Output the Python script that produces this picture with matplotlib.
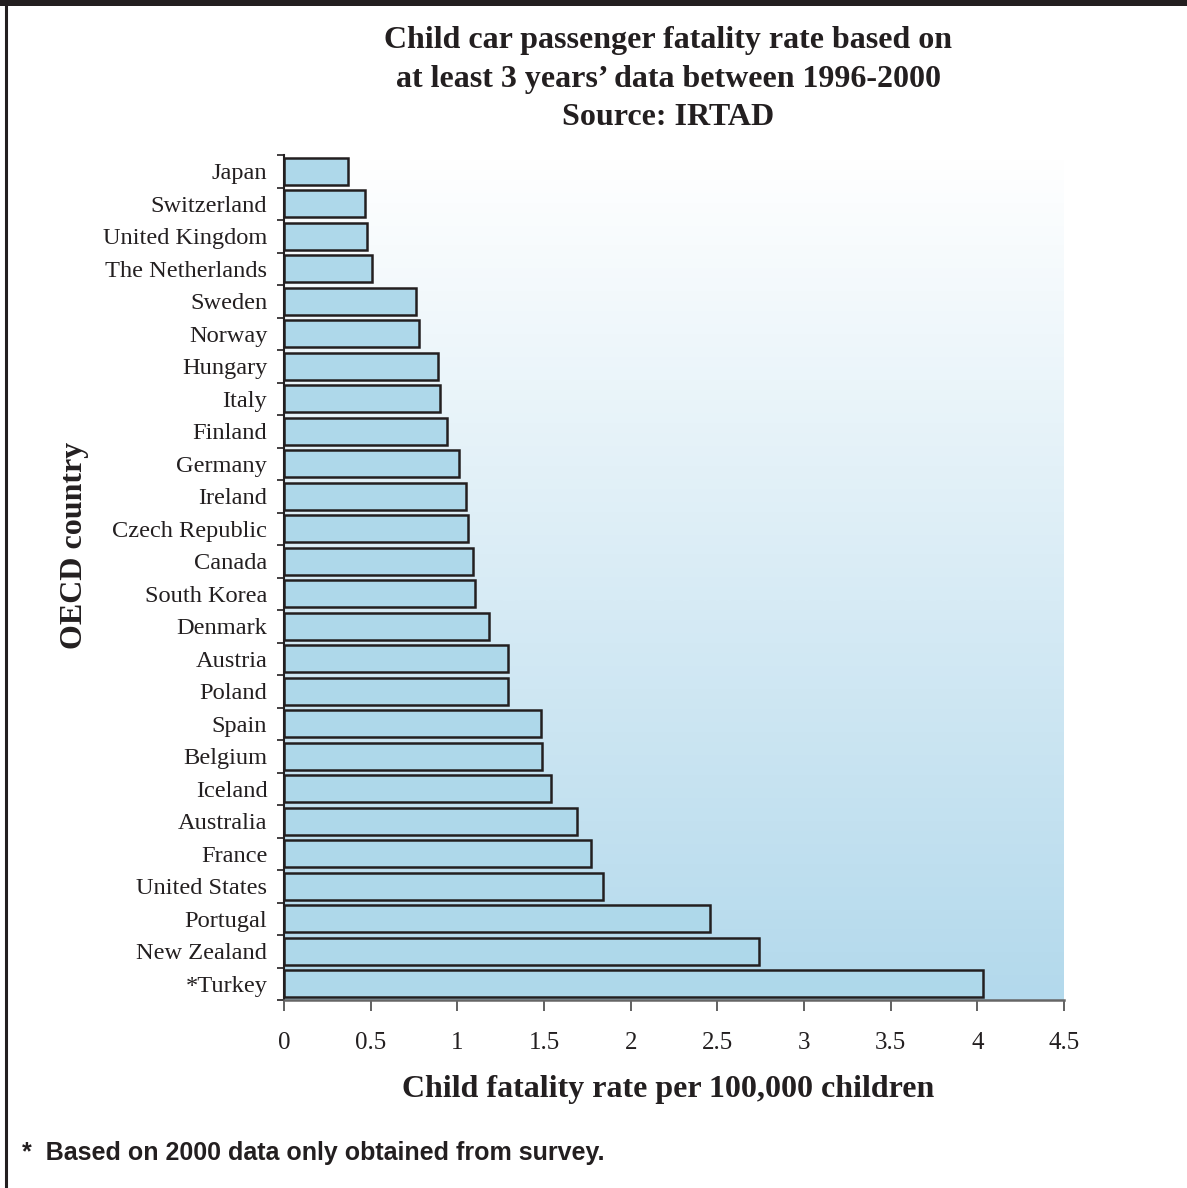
import numpy as np
import matplotlib
matplotlib.use("Agg")
import matplotlib.pyplot as plt
from matplotlib.colors import LinearSegmentedColormap
from matplotlib.patches import Rectangle
from matplotlib.lines import Line2D

# Child car passenger fatality rate per 100,000 children (IRTAD, 1996-2000)
countries = [
    "Japan", "Switzerland", "United Kingdom", "The Netherlands", "Sweden",
    "Norway", "Hungary", "Italy", "Finland", "Germany", "Ireland",
    "Czech Republic", "Canada", "South Korea", "Denmark", "Austria",
    "Poland", "Spain", "Belgium", "Iceland", "Australia", "France",
    "United States", "Portugal", "New Zealand", "*Turkey",
]
rates = [
    0.37, 0.47, 0.48, 0.51, 0.76,
    0.78, 0.89, 0.90, 0.94, 1.01, 1.05,
    1.06, 1.09, 1.10, 1.18, 1.29,
    1.29, 1.48, 1.49, 1.54, 1.69, 1.77,
    1.84, 2.46, 2.74, 4.03,
]
x_ticks = [0, 0.5, 1, 1.5, 2, 2.5, 3, 3.5, 4, 4.5]
x_tick_labels = ["0", "0.5", "1", "1.5", "2", "2.5", "3", "3.5", "4", "4.5"]

title = "Child car passenger fatality rate based on\nat least 3 years\u2019 data between 1996-2000\nSource: IRTAD"
x_label = "Child fatality rate per 100,000 children"
y_label = "OECD country"
footnote = "*  Based on 2000 data only obtained from survey."

W, H = 1187, 1188
DPI = 100
serif = ["Liberation Serif", "DejaVu Serif"]
ink = "#231f20"

fig = plt.figure(figsize=(W / DPI, H / DPI), dpi=DPI)
fig.patch.set_facecolor("white")

def fx(px):
    return px / W

def fy(py):
    return 1 - py / H

ax_left, ax_right, ax_top, ax_bottom = 284, 1064, 155, 1000
ax = fig.add_axes([fx(ax_left), fy(ax_bottom), fx(ax_right - ax_left), (ax_bottom - ax_top) / H])

n = len(countries)
ypos = np.arange(n)

# vertical white-to-blue gradient behind the bars
grad = LinearSegmentedColormap.from_list("bg", ["#ffffff", "#b3d9ec"])
ax.imshow(np.linspace(0, 1, 256).reshape(-1, 1), cmap=grad, aspect="auto",
          extent=(0, 4.5, n - 0.5, -0.5), zorder=0, interpolation="bicubic")

ax.barh(ypos, rates, height=0.83, color="#aed8ea", edgecolor=ink,
        linewidth=1.8, zorder=2)

ax.set_xlim(0, 4.5)
ax.set_ylim(n - 0.5, -0.5)

ax.set_yticks(ypos)
ax.set_yticklabels(countries, family=serif, fontsize=17.6, color=ink)
ax.tick_params(axis="y", which="major", length=0, pad=12)
ax.set_yticks(np.arange(n + 1) - 0.5, minor=True)
ax.tick_params(axis="y", which="minor", length=5, width=1.2, color=ink, direction="out")

ax.set_xticks(x_ticks)
ax.set_xticklabels(x_tick_labels, family=serif, fontsize=18, color=ink)
ax.tick_params(axis="x", length=8, width=1.3, color="#555555", direction="out", pad=15)

for side in ("top", "right"):
    ax.spines[side].set_visible(False)
ax.spines["left"].set_color(ink)
ax.spines["left"].set_linewidth(1.5)
ax.spines["bottom"].set_color("#666666")
ax.spines["bottom"].set_linewidth(1.8)

fig.text(fx(668), fy(79), title, ha="center", va="center", family=serif,
         fontsize=23, fontweight="bold", color=ink, linespacing=1.42)
fig.text(fx(668), fy(1090), x_label, ha="center", va="center", family=serif,
         fontsize=23, fontweight="bold", color=ink)
fig.text(fx(75), fy(545), y_label, ha="center", va="center", rotation=90,
         family=serif, fontsize=23, fontweight="bold", color=ink)
fig.text(fx(22), fy(1153), footnote, ha="left", va="center",
         family=["Liberation Sans", "DejaVu Sans"], fontsize=18,
         fontweight="bold", color=ink)

# page frame: dark band across the top and a rule down the left side
fig.patches.append(Rectangle((0, fy(6)), 1, 6 / H, transform=fig.transFigure,
                             facecolor=ink, edgecolor="none", zorder=5))
fig.lines.append(Line2D([fx(5.5), fx(5.5)], [0, 1], transform=fig.transFigure,
                        color=ink, linewidth=2.2, zorder=5))

fig.savefig("out.png", dpi=DPI)
